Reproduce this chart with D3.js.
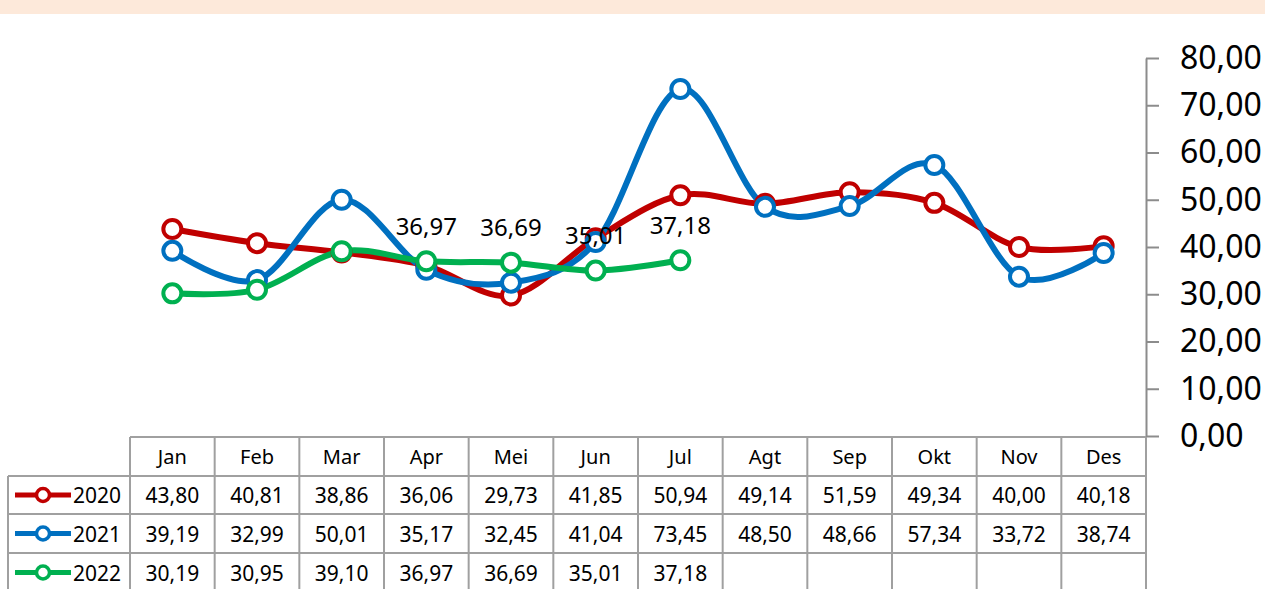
<!DOCTYPE html>
<html>
<head>
<meta charset="utf-8">
<script src="https://cdn.jsdelivr.net/npm/d3@7"></script>
<style>
  html, body { margin: 0; padding: 0; background: #fff; }
  svg { display: block; }
  text { font-family: "Noto Sans", "Open Sans", sans-serif; fill: #000; }
</style>
</head>
<body>
<svg id="chart" width="1265" height="589"></svg>
<script>
// Monthly values per year
const months = ["Jan", "Feb", "Mar", "Apr", "Mei", "Jun", "Jul", "Agt", "Sep", "Okt", "Nov", "Des"];
const years = ["2020", "2021", "2022"];
const values2020 = [43.80, 40.81, 38.86, 36.06, 29.73, 41.85, 50.94, 49.14, 51.59, 49.34, 40.00, 40.18];
const values2021 = [39.19, 32.99, 50.01, 35.17, 32.45, 41.04, 73.45, 48.50, 48.66, 57.34, 33.72, 38.74];
const values2022 = [30.19, 30.95, 39.10, 36.97, 36.69, 35.01, 37.18];
const labelledMonths2022 = ["Apr", "Mei", "Jun", "Jul"];
const yTicks = [0, 10, 20, 30, 40, 50, 60, 70, 80];
const colors = ["#c00000", "#0070c0", "#00b050"];

const series = [
  { name: years[0], values: values2020, color: colors[0], labels: [] },
  { name: years[1], values: values2021, color: colors[1], labels: [] },
  { name: years[2], values: values2022, color: colors[2], labels: labelledMonths2022 }
];

const locale = d3.formatLocale({ decimal: ",", thousands: ".", grouping: [3], currency: ["", ""] });
const fmt = locale.format(".2f");

const svg = d3.select("#chart");

// Header band
svg.append("rect").attr("x", 0).attr("y", 0).attr("width", 1265).attr("height", 14).attr("fill", "#fde9da");

const plotLeft = 130, plotRight = 1146, plotTop = 58, plotBottom = 436;
const x = d3.scaleBand().domain(months).range([plotLeft, plotRight]).padding(0);
const y = d3.scaleLinear().domain([0, 80]).range([plotBottom, plotTop]);
const cx = m => x(m) + x.bandwidth() / 2;

// Value axis on the right
const axis = d3.axisRight(y).tickValues(yTicks).tickSize(13).tickSizeOuter(0).tickPadding(21).tickFormat(fmt);
const gAxis = svg.append("g").attr("transform", `translate(${plotRight},0)`).call(axis);
gAxis.select(".domain").attr("stroke", "#8c8c8c").attr("stroke-width", 2);
gAxis.selectAll(".tick line").attr("stroke", "#8c8c8c").attr("stroke-width", 2);
gAxis.selectAll(".tick text").attr("font-size", 32).attr("font-family", "'Noto Sans', sans-serif").attr("fill", "#000");

// Data table
const gridColor = "#a0a0a0";
const rowTop = [437, 476, 514, 553, 592];
const legendLeft = 8;
const table = svg.append("g").attr("stroke", gridColor).attr("stroke-width", 2).attr("fill", "none");
// horizontal rules
table.append("line").attr("x1", plotLeft).attr("x2", plotRight).attr("y1", rowTop[0]).attr("y2", rowTop[0]);
rowTop.slice(1).forEach(ry => {
  table.append("line").attr("x1", legendLeft).attr("x2", plotRight).attr("y1", ry).attr("y2", ry);
});
// vertical rules
const colEdges = months.map(m => x(m)).concat([plotRight]);
colEdges.forEach(ex => {
  table.append("line").attr("x1", ex).attr("x2", ex).attr("y1", rowTop[0]).attr("y2", 592);
});
table.append("line").attr("x1", legendLeft).attr("x2", legendLeft).attr("y1", rowTop[1]).attr("y2", 592);

// month headers
svg.append("g").selectAll("text").data(months).join("text")
  .attr("x", d => cx(d)).attr("y", (rowTop[0] + rowTop[1]) / 2)
  .attr("text-anchor", "middle").attr("dominant-baseline", "central")
  .attr("font-size", 20).text(d => d);

// rows
series.forEach((s, i) => {
  const ry = (rowTop[i + 1] + rowTop[i + 2]) / 2;
  const g = svg.append("g");
  g.append("line").attr("x1", 15).attr("x2", 71).attr("y1", ry).attr("y2", ry)
    .attr("stroke", s.color).attr("stroke-width", 5);
  g.append("circle").attr("cx", 43).attr("cy", ry).attr("r", 6.5)
    .attr("fill", "#fff").attr("stroke", s.color).attr("stroke-width", 3.5);
  g.append("text").attr("x", 73).attr("y", ry).attr("dominant-baseline", "central")
    .attr("font-size", 21).text(s.name);
  g.selectAll("text.val").data(s.values).join("text").attr("class", "val")
    .attr("x", (d, j) => cx(months[j])).attr("y", ry)
    .attr("text-anchor", "middle").attr("dominant-baseline", "central")
    .attr("font-size", 21).text(d => fmt(d));
});

// Smoothed lines
const line = d3.line()
  .x((d, j) => cx(months[j]))
  .y(d => y(d))
  .curve(d3.curveCardinal.tension(0));

const gLines = svg.append("g");
series.forEach(s => {
  gLines.append("path").attr("d", line(s.values))
    .attr("fill", "none").attr("stroke", s.color).attr("stroke-width", 6)
    .attr("stroke-linejoin", "round").attr("stroke-linecap", "round");
});

// Markers
series.forEach(s => {
  svg.append("g").selectAll("circle").data(s.values).join("circle")
    .attr("cx", (d, j) => cx(months[j])).attr("cy", d => y(d)).attr("r", 9)
    .attr("fill", "#fff").attr("stroke", s.color).attr("stroke-width", 4);
});

// Value labels
series.forEach(s => {
  const pts = s.values.map((v, j) => ({ m: months[j], v })).filter(p => s.labels.includes(p.m));
  svg.append("g").selectAll("text").data(pts).join("text")
    .attr("x", p => cx(p.m)).attr("y", p => y(p.v) - 36)
    .attr("text-anchor", "middle").attr("dominant-baseline", "central")
    .attr("font-size", 24).text(p => fmt(p.v));
});
</script>
</body>
</html>
